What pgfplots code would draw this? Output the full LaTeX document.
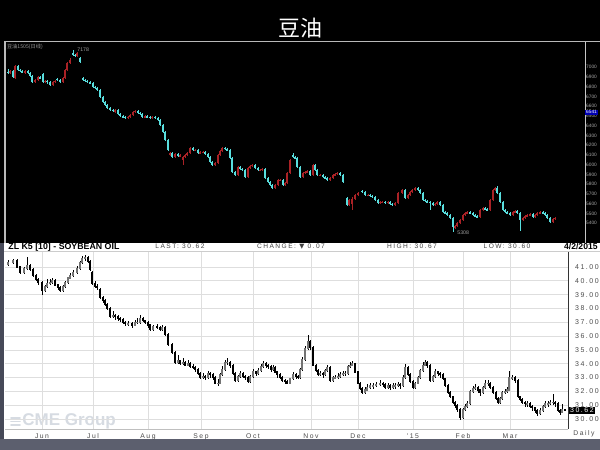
\documentclass[border=0pt]{standalone}
\usepackage{pgfplots}
\pgfplotsset{compat=1.18}
\usepackage{pgfplotstable}
\usepackage{fontspec}
\setmainfont{Liberation Sans}
\newfontfamily\cjk{Noto Sans CJK SC}
\newfontfamily\spaced[LetterSpace=22]{Liberation Sans}
\newfontfamily\sym{DejaVu Sans}

\definecolor{slate}{RGB}{92,95,110}
\definecolor{slatedark}{RGB}{70,73,88}
\definecolor{upred}{RGB}{170,34,38}
\definecolor{dncyan}{RGB}{88,222,222}
\definecolor{gridgray}{RGB}{222,222,222}
\definecolor{cme}{RGB}{214,219,226}

\pgfplotsset{
  candle/.style 2 args={draw=none, no markers, forget plot,
    /pgfplots/error bars/y dir=both,
    /pgfplots/error bars/y explicit,
    /pgfplots/error bars/error mark=none,
    /pgfplots/error bars/error bar style={draw=#1, line width=#2}},
}

% Dalian soybean oil 1505, daily candles (x = position, prices o h l c)
\pgfplotstableread{
d o h l c
8 6952 6983 6932 6942
10 6942 6973 6932 6962
13 6962 6973 6890 6901
15 6890 7024 6880 7014
18 7014 7024 6962 6973
20 6973 6983 6952 6962
22 6962 6973 6942 6952
25 6942 6973 6932 6962
28 6962 6973 6932 6942
30 6942 6952 6901 6911
32 6911 6921 6839 6849
35 6849 6880 6839 6870
38 6870 6911 6860 6901
40 6901 6911 6880 6890
43 6932 6942 6839 6849
45 6849 6870 6839 6860
47 6860 6870 6829 6849
50 6849 6860 6808 6819
53 6819 6860 6808 6849
55 6849 6870 6839 6860
57 6880 6890 6860 6870
60 6870 6880 6839 6849
63 6849 6901 6839 6890
65 6890 6983 6880 6973
67 6973 7055 6962 7044
70 7044 7096 7034 7075
73 7147 7178 7116 7127
75 7127 7137 7106 7116
77 7116 7157 7106 7147
80 7096 7106 7044 7055
83 6890 6901 6860 6870
85 6870 6880 6849 6860
87 6860 6870 6839 6849
90 6849 6860 6829 6839
93 6839 6849 6788 6798
95 6798 6808 6777 6788
97 6788 6798 6757 6767
100 6767 6777 6685 6695
103 6695 6705 6634 6644
105 6644 6654 6603 6613
107 6613 6623 6572 6582
110 6582 6592 6552 6562
113 6562 6572 6541 6552
115 6541 6572 6531 6562
118 6562 6572 6510 6521
120 6521 6531 6490 6500
123 6500 6510 6480 6490
125 6490 6500 6469 6480
128 6480 6500 6469 6490
130 6490 6521 6480 6510
133 6510 6552 6500 6541
135 6541 6562 6531 6552
138 6552 6562 6521 6531
140 6531 6541 6510 6521
142 6521 6531 6480 6490
145 6490 6510 6480 6500
147 6500 6510 6480 6490
150 6490 6500 6469 6480
152 6480 6500 6469 6490
155 6490 6500 6469 6480
158 6480 6490 6449 6459
160 6459 6469 6397 6408
163 6408 6418 6326 6336
165 6336 6346 6244 6254
168 6254 6264 6141 6151
170 6100 6130 6089 6120
172 6120 6130 6069 6079
175 6079 6120 6069 6110
178 6110 6120 6079 6089
180 6089 6110 6079 6100
183 6048 6089 5997 6079
185 6079 6110 6069 6100
187 6100 6130 6089 6120
190 6120 6182 6110 6172
193 6172 6182 6141 6151
195 6151 6161 6141 6151
198 6151 6161 6110 6120
200 6120 6141 6110 6130
203 6130 6141 6120 6130
205 6130 6141 6100 6110
208 6110 6120 6069 6079
210 6079 6089 6017 6028
212 6028 6038 5987 5997
215 5997 6028 5987 6017
218 6017 6110 6007 6100
220 6100 6151 6089 6141
222 6141 6182 6130 6172
225 6172 6182 6151 6161
227 6161 6172 6141 6151
230 6151 6161 6059 6069
232 6069 6079 5915 5925
235 5925 5935 5884 5894
238 5894 5987 5884 5976
240 5976 5987 5946 5956
242 5956 5966 5935 5946
245 5946 5956 5863 5874
248 5874 5976 5863 5966
250 5966 5997 5956 5987
252 5987 6007 5976 5997
255 5997 6007 5956 5966
258 5966 5976 5935 5946
260 5946 5956 5935 5946
262 5946 5966 5935 5956
265 5956 5966 5853 5863
268 5863 5874 5812 5822
270 5822 5833 5781 5792
272 5792 5802 5750 5761
275 5761 5802 5750 5792
278 5792 5853 5781 5843
280 5843 5853 5833 5843
283 5843 5853 5781 5792
285 5792 5822 5781 5812
287 5812 5925 5802 5915
290 5915 6059 5905 6048
293 6100 6120 6069 6079
295 6079 6089 6059 6069
297 6069 6079 5966 5976
300 5976 5987 5863 5874
303 5874 5925 5863 5915
305 5915 5935 5905 5925
307 5925 5946 5915 5935
310 5935 5946 5884 5894
313 5894 6007 5884 5997
315 5997 6007 5935 5946
317 5946 5956 5884 5894
320 5894 5905 5884 5894
323 5894 5905 5863 5874
325 5874 5884 5853 5863
327 5863 5874 5833 5843
330 5843 5874 5833 5863
333 5863 5905 5853 5894
335 5894 5915 5884 5905
337 5905 5925 5894 5915
340 5915 5925 5884 5894
343 5894 5905 5812 5822
347 5658 5669 5576 5586
349 5586 5648 5576 5638
352 5600 5669 5535 5648
355 5648 5699 5638 5689
358 5689 5720 5679 5709
362 5730 5740 5709 5720
365 5720 5730 5679 5689
368 5689 5699 5679 5689
370 5689 5699 5669 5679
372 5679 5689 5658 5669
375 5669 5679 5627 5638
378 5638 5648 5597 5607
380 5607 5627 5597 5617
382 5617 5627 5607 5617
385 5617 5627 5597 5607
388 5607 5627 5597 5617
390 5617 5627 5586 5597
392 5597 5607 5576 5586
395 5586 5617 5576 5607
398 5607 5720 5597 5709
402 5709 5751 5699 5740
405 5740 5751 5648 5658
408 5658 5699 5648 5689
410 5689 5730 5679 5720
412 5720 5751 5709 5740
415 5740 5771 5730 5761
418 5761 5771 5730 5740
420 5740 5751 5699 5709
423 5709 5720 5627 5638
425 5638 5648 5617 5627
427 5627 5638 5607 5617
430 5617 5627 5535 5607
433 5607 5617 5576 5586
435 5586 5607 5576 5597
437 5597 5627 5586 5617
440 5617 5627 5576 5586
443 5586 5597 5504 5514
445 5514 5524 5494 5504
447 5504 5514 5473 5483
450 5483 5494 5443 5453
453 5453 5463 5308 5360
455 5360 5381 5340 5371
457 5371 5412 5360 5401
460 5401 5443 5391 5432
463 5432 5494 5422 5483
465 5483 5514 5473 5504
467 5504 5524 5494 5514
470 5514 5524 5494 5504
473 5504 5514 5473 5483
475 5483 5494 5463 5473
477 5473 5483 5453 5463
480 5463 5545 5453 5535
483 5535 5566 5524 5555
485 5555 5566 5535 5545
487 5545 5555 5524 5535
490 5535 5648 5524 5638
493 5638 5751 5627 5740
495 5740 5771 5730 5761
497 5761 5781 5699 5709
500 5709 5720 5607 5617
503 5617 5627 5524 5535
505 5535 5545 5504 5514
507 5514 5524 5494 5504
510 5504 5514 5473 5483
513 5483 5524 5473 5514
515 5514 5535 5504 5524
517 5524 5535 5494 5504
520 5504 5514 5320 5432
523 5432 5463 5422 5453
525 5453 5483 5443 5473
527 5473 5494 5463 5483
530 5483 5504 5473 5494
533 5494 5504 5453 5463
535 5463 5494 5453 5483
537 5483 5514 5473 5504
540 5504 5524 5494 5514
543 5514 5524 5494 5504
545 5504 5514 5473 5483
547 5483 5494 5443 5453
550 5453 5463 5401 5412
553 5412 5453 5401 5443
555 5443 5463 5432 5453
}\topdata

% ZL K5 soybean oil, daily bars
\pgfplotstableread{
d o h l c
8 41.2 41.5 41.1 41.3
13 41.3 41.6 41.2 41.5
17 41.5 41.6 40.9 41.0
20 41.0 41.1 40.5 40.6
24 40.6 41.0 40.5 40.9
27 40.9 41.7 40.8 41.1
30 41.1 41.2 40.7 40.8
33 40.8 40.9 40.3 40.4
36 40.4 40.5 40.0 40.1
38 40.1 40.2 39.7 39.9
42 39.9 40.0 39.0 39.3
45 39.3 39.7 39.2 39.6
47 39.6 40.1 39.5 39.8
50 39.8 40.1 39.7 39.9
52 39.9 40.2 39.8 40.0
55 40.0 40.1 39.6 39.7
58 39.7 39.8 39.3 39.5
60 39.5 39.6 39.2 39.3
63 39.3 39.7 39.2 39.6
65 39.6 40.0 39.5 39.9
68 39.9 40.3 39.8 40.2
70 40.2 40.6 40.1 40.4
73 40.4 40.8 40.3 40.6
77 40.6 41.1 40.5 40.9
80 40.9 41.4 40.8 41.3
82 41.3 41.8 41.2 41.6
85 41.6 41.9 41.4 41.7
88 41.7 41.8 41.3 41.4
90 41.4 41.5 40.7 40.8
92 40.6 40.7 39.7 39.8
95 39.8 40.0 39.5 39.6
97 39.6 39.8 39.3 39.5
100 39.4 39.5 38.7 38.8
103 38.8 38.9 38.4 38.6
105 38.6 38.7 38.2 38.3
107 38.3 38.4 37.9 38.0
110 38.0 38.1 37.3 37.4
113 37.4 37.8 37.3 37.5
115 37.5 37.6 37.2 37.4
118 37.4 37.5 37.1 37.3
120 37.3 37.4 37.0 37.2
123 37.2 37.3 36.9 37.0
125 37.0 37.1 36.7 36.9
128 36.9 37.1 36.7 36.9
132 36.9 37.0 36.6 36.8
135 36.8 37.2 36.7 37.0
137 37.0 37.3 36.9 37.0
140 37.0 37.5 36.9 37.3
143 37.3 37.4 37.0 37.1
145 37.1 37.2 36.9 37.0
148 37.0 37.1 36.6 36.8
150 36.8 36.9 36.4 36.5
153 36.5 36.8 36.4 36.7
157 36.7 36.9 36.5 36.6
160 36.6 36.7 36.4 36.5
162 36.5 36.8 36.4 36.6
165 36.6 36.7 36.0 36.1
168 36.1 36.2 35.3 35.4
172 35.4 35.5 34.7 34.8
175 34.8 34.9 34.0 34.1
178 34.1 34.6 34.0 34.2
180 34.2 34.3 33.9 34.0
183 34.0 34.4 33.9 34.1
185 34.1 34.2 33.8 33.9
188 33.9 34.3 33.8 34.0
190 34.0 34.1 33.7 33.8
193 33.8 34.0 33.6 33.7
195 33.7 33.8 33.4 33.6
198 33.6 33.7 33.2 33.3
200 33.3 33.4 32.9 33.0
203 33.0 33.3 32.9 33.1
205 33.1 33.2 32.8 33.0
208 33.0 33.5 32.9 33.3
210 33.3 33.4 33.0 33.2
213 33.2 33.3 32.8 33.0
215 33.0 33.1 32.5 32.6
218 32.6 32.9 32.4 32.6
220 32.6 33.3 32.5 33.2
222 33.2 33.8 33.1 33.6
225 33.6 34.3 33.5 34.1
227 34.1 34.4 33.9 34.1
230 34.1 34.2 33.7 33.9
233 33.9 34.0 33.2 33.3
235 33.3 33.4 32.7 32.8
238 32.8 33.2 32.7 33.1
240 33.1 33.5 33.0 33.3
243 33.3 33.4 33.0 33.1
245 33.1 33.2 32.8 33.0
248 33.0 33.1 32.6 32.7
250 32.7 33.2 32.6 33.1
253 33.1 33.6 33.0 33.4
256 33.4 33.5 33.1 33.3
258 33.3 33.7 33.2 33.5
261 33.5 34.0 33.4 33.8
263 33.8 34.2 33.7 34.0
266 34.0 34.1 33.7 33.9
268 33.9 34.0 33.6 33.8
271 33.8 33.9 33.4 33.6
273 33.6 33.9 33.5 33.7
275 33.7 33.8 33.3 33.4
277 33.4 33.5 33.0 33.2
280 33.2 33.3 32.9 33.0
282 33.0 33.1 32.7 32.8
285 32.8 32.9 32.5 32.7
287 32.7 32.8 32.5 32.6
290 32.6 33.0 32.5 32.9
293 32.9 33.4 32.8 33.2
296 33.2 33.3 32.9 33.1
298 33.1 33.2 32.9 33.0
300 33.0 33.7 32.9 33.6
302 33.6 34.5 33.5 34.3
305 34.3 35.3 34.2 35.1
308 35.1 36.1 35.0 35.6
310 35.6 35.7 35.0 35.2
313 35.2 35.3 33.8 33.9
316 33.9 34.0 33.4 33.5
318 33.5 33.6 33.1 33.2
320 33.2 33.5 33.1 33.3
323 33.3 33.4 33.0 33.2
325 33.2 33.6 33.1 33.5
327 33.5 33.9 33.4 33.7
330 33.7 33.8 32.7 32.8
333 32.8 33.1 32.7 33.0
335 33.0 33.2 32.9 33.0
338 33.0 33.3 32.9 33.1
340 33.1 33.4 33.0 33.2
343 33.2 33.5 33.1 33.3
345 33.3 33.5 33.1 33.3
348 33.3 33.9 33.2 33.8
350 33.8 34.1 33.7 33.9
352 33.9 34.2 33.8 34.0
355 34.0 34.0 33.3 33.4
358 33.4 33.5 32.5 32.6
360 32.6 32.7 32.1 32.2
362 32.2 32.3 31.8 31.9
365 31.9 32.3 31.8 32.1
367 32.1 32.5 32.0 32.3
370 32.3 32.6 32.2 32.4
373 32.4 32.6 32.2 32.4
376 32.4 32.7 32.3 32.5
380 32.5 32.8 32.4 32.6
383 32.6 32.7 32.3 32.5
385 32.5 32.6 32.2 32.3
388 32.3 32.6 32.2 32.4
390 32.4 32.5 32.1 32.3
393 32.3 32.6 32.2 32.4
395 32.4 32.6 32.2 32.4
398 32.4 32.7 32.3 32.5
400 32.5 32.6 32.2 32.4
403 32.4 33.2 32.3 33.0
405 33.0 34.0 32.9 33.7
408 33.7 33.8 33.1 33.2
410 33.2 33.3 32.6 32.7
413 32.7 32.8 32.2 32.3
415 32.3 32.7 32.2 32.6
418 32.6 33.1 32.5 33.0
420 33.0 33.6 32.9 33.5
423 33.5 34.1 33.4 33.9
425 33.9 34.3 33.8 34.1
427 34.1 34.2 33.7 33.9
430 33.9 34.0 32.7 32.8
433 32.8 33.2 32.7 33.1
435 33.1 33.6 33.0 33.4
438 33.4 33.5 33.1 33.3
440 33.3 33.4 33.0 33.2
443 33.2 33.3 32.8 32.9
445 32.9 33.0 32.3 32.4
448 32.4 32.5 31.8 31.9
450 31.9 32.0 31.5 31.6
453 31.6 31.7 31.1 31.2
455 31.2 31.3 30.8 31.0
457 31.0 31.1 30.5 30.7
460 30.7 30.8 29.9 30.1
463 30.1 30.8 30.0 30.7
465 30.7 31.1 30.6 30.9
467 30.9 31.3 30.8 31.1
470 31.1 32.1 31.0 32.0
473 32.0 32.4 31.9 32.2
475 32.2 32.5 32.1 32.3
478 32.3 32.4 31.9 32.1
480 32.1 32.2 31.7 31.9
483 31.9 32.4 31.8 32.3
485 32.3 32.8 32.2 32.6
488 32.6 32.8 32.4 32.6
490 32.6 32.7 32.2 32.3
493 32.3 32.4 31.8 31.9
496 31.9 32.0 31.4 31.5
498 31.5 31.6 31.1 31.2
500 31.2 31.6 31.1 31.5
502 31.5 32.0 31.4 31.9
505 31.9 32.2 31.8 32.0
507 32.0 32.3 31.9 32.1
509 32.1 33.5 32.0 33.0
512 33.0 33.2 32.8 33.0
515 33.0 33.1 32.6 32.8
518 32.8 32.9 31.5 31.6
520 31.6 31.7 31.3 31.4
522 31.4 31.5 31.1 31.2
525 31.2 31.3 30.9 31.1
527 31.1 31.3 30.9 31.1
530 31.1 31.2 30.8 30.9
532 30.9 31.0 30.6 30.8
535 30.8 30.9 30.4 30.6
537 30.6 30.7 30.2 30.4
540 30.4 30.8 30.3 30.6
543 30.6 31.0 30.5 30.9
545 30.9 31.3 30.8 31.1
548 31.1 31.3 30.9 31.1
550 31.1 31.4 31.0 31.2
553 31.2 31.8 31.0 31.2
555 31.2 31.3 30.9 31.1
558 31.1 31.2 30.5 30.6
560 30.6 30.7 30.3 30.5
562 30.5 31.1 30.4 30.7
565 30.65 30.67 30.60 30.62
}\zldata

\begin{document}
\begin{tikzpicture}
\useasboundingbox (0,0) rectangle (300pt,225pt);
\fill[black] (0,0) rectangle (300pt,225pt);
\fill[slate] (0,0) rectangle (300pt,5.5pt);
\fill[slatedark] (0,5.5pt) rectangle (2pt,103.5pt);
\fill[white] (2pt,5.5pt) rectangle (300pt,103.5pt);
\draw[gray!55, line width=0.6pt] (2pt,204.2pt) -- (300pt,204.2pt);
\draw[gray!55, line width=0.6pt] (2.5pt,103.5pt) -- (2.5pt,204.2pt);
\node[text=white, font=\cjk\fontsize{11}{11}\selectfont] at (150pt,211pt) {豆油};

% header of the lower panel
\draw[gray!40, line width=0.4pt] (2pt,99.5pt) -- (300pt,99.5pt);
\begin{scope}[every node/.style={anchor=base, inner sep=0pt}]
\node[anchor=base west, font=\bfseries\fontsize{4.4}{5}\selectfont] at (4pt,100.3pt) {ZL K5 [10] - SOYBEAN OIL};
\node[font=\spaced\fontsize{3.3}{4}\selectfont, text=black!75] at (90pt,100.5pt) {LAST: 30.62};
\node[font=\spaced\fontsize{3.3}{4}\selectfont, text=black!75] at (145.5pt,100.5pt) {CHANGE: {\sym ▼} 0.07};
\node[font=\spaced\fontsize{3.3}{4}\selectfont, text=black!75] at (206pt,100.5pt) {HIGH: 30.67};
\node[font=\spaced\fontsize{3.3}{4}\selectfont, text=black!75] at (253.5pt,100.5pt) {LOW: 30.60};
\node[anchor=base east, font=\bfseries\fontsize{4.3}{5}\selectfont] at (299pt,100.3pt) {4/2/2015};
\end{scope}

% watermark
\foreach \yy in {12.6,14.2,15.8}
  \draw[cme, line width=0.9pt, line cap=round] (5.5pt,\yy pt) -- (10pt,\yy pt);
\node[anchor=west, text=cme, font=\bfseries\fontsize{8.5}{9}\selectfont, inner sep=0pt] at (11pt,14.2pt) {CME Group};

% upper panel: candlesticks
\begin{axis}[
  at={(2.5pt,103.5pt)}, anchor=south west,
  width=290pt, height=100.5pt, scale only axis,
  xmin=5, xmax=585, ymin=5196, ymax=7260,
  hide x axis,
  axis y line*=right,
  y axis line style={draw=gray!45, line width=0.4pt},
  ytick={5400,5500,...,7000},
  major tick length=0pt,
  yticklabel style={font=\fontsize{2.4}{3}\selectfont, text=gray!70, inner sep=0.4pt},
  /pgf/number format/1000 sep={},
  /pgf/number format/assume math mode=true,
  clip=false,
]
\addplot[restrict y to domain=0:100000, candle={upred}{0.35pt}]
  table[x=d, y expr={\thisrow{c}>=\thisrow{o} ? (\thisrow{h}+\thisrow{l})/2 : -1},
        y error expr={(\thisrow{h}-\thisrow{l})/2}] {\topdata};
\addplot[restrict y to domain=0:100000, candle={dncyan}{0.35pt}]
  table[x=d, y expr={\thisrow{c}<\thisrow{o} ? (\thisrow{h}+\thisrow{l})/2 : -1},
        y error expr={(\thisrow{h}-\thisrow{l})/2}] {\topdata};
\addplot[restrict y to domain=0:100000, candle={upred}{1.0pt}]
  table[x=d, y expr={\thisrow{c}>=\thisrow{o} ? (\thisrow{o}+\thisrow{c})/2 : -1},
        y error expr={abs(\thisrow{c}-\thisrow{o})/2+4}] {\topdata};
\addplot[restrict y to domain=0:100000, candle={dncyan}{1.0pt}]
  table[x=d, y expr={\thisrow{c}<\thisrow{o} ? (\thisrow{o}+\thisrow{c})/2 : -1},
        y error expr={abs(\thisrow{c}-\thisrow{o})/2+4}] {\topdata};
\node[anchor=west, font=\fontsize{2.6}{3}\selectfont, text=gray!75, inner sep=0.5pt] at (axis cs:76,7178) {7178};
\node[anchor=west, font=\fontsize{2.6}{3}\selectfont, text=gray!75, inner sep=0.5pt] at (axis cs:456,5300) {5308};
\node[anchor=west, fill=blue!70!black, text=white, font=\fontsize{2.4}{3}\selectfont, inner sep=0.4pt] at (axis cs:585,6541) {6541};
\node[anchor=north west, font=\cjk\fontsize{2.6}{3}\selectfont, text=gray!80, inner sep=0.8pt] at (rel axis cs:0,1) {豆油1505(日线)};
\end{axis}

% lower panel: ZL K5 bars
\begin{axis}[
  at={(2.5pt,10.5pt)}, anchor=south west,
  width=281.5pt, height=88.5pt, scale only axis,
  xmin=5, xmax=568, ymin=29.276, ymax=42.085,
  axis x line*=bottom, axis y line*=right,
  x axis line style={draw=gray!50, line width=0.4pt},
  y axis line style={draw=black!80, line width=0.4pt},
  xtick={42,93,148,201,253,311,358,413,463,510},
  xticklabels={Jun,Jul,Aug,Sep,Oct,Nov,Dec,'15,Feb,Mar},
  ytick={30,31,...,41},
  grid=major,
  major grid style={draw=gridgray, line width=0.35pt},
  major tick length=0pt,
  xticklabel style={font=\spaced\fontsize{3.4}{4}\selectfont, text=black!70,
    text height=2.5pt, text depth=0.7pt, yshift=1.2pt},
  yticklabel style={font=\spaced\fontsize{3.5}{4}\selectfont, text=black!70,
    /pgf/number format/fixed, /pgf/number format/fixed zerofill,
    /pgf/number format/precision=2, /pgf/number format/assume math mode=true},
  clip=false,
]
\addplot[candle={black}{0.5pt}]
  table[x=d, y expr={(\thisrow{h}+\thisrow{l})/2},
        y error expr={(\thisrow{h}-\thisrow{l})/2}] {\zldata};
\addplot[restrict y to domain=0:100, candle={black!55}{1.4pt}]
  table[x=d, y expr={\thisrow{c}>=\thisrow{o} ? (\thisrow{o}+\thisrow{c})/2 : -1},
        y error expr={abs(\thisrow{c}-\thisrow{o})/2+0.04}] {\zldata};
\addplot[restrict y to domain=0:100, candle={black}{1.4pt}]
  table[x=d, y expr={\thisrow{c}<\thisrow{o} ? (\thisrow{o}+\thisrow{c})/2 : -1},
        y error expr={abs(\thisrow{c}-\thisrow{o})/2+0.04}] {\zldata};
\node[anchor=west, fill=black, text=white, font=\spaced\fontsize{3.5}{4}\selectfont, inner sep=0.6pt] at (axis cs:568.5,30.62) {30.62};
\end{axis}
\node[font=\spaced\fontsize{3.4}{4}\selectfont, text=black!70] at (292pt,8pt) {Daily};
\end{tikzpicture}
\end{document}
